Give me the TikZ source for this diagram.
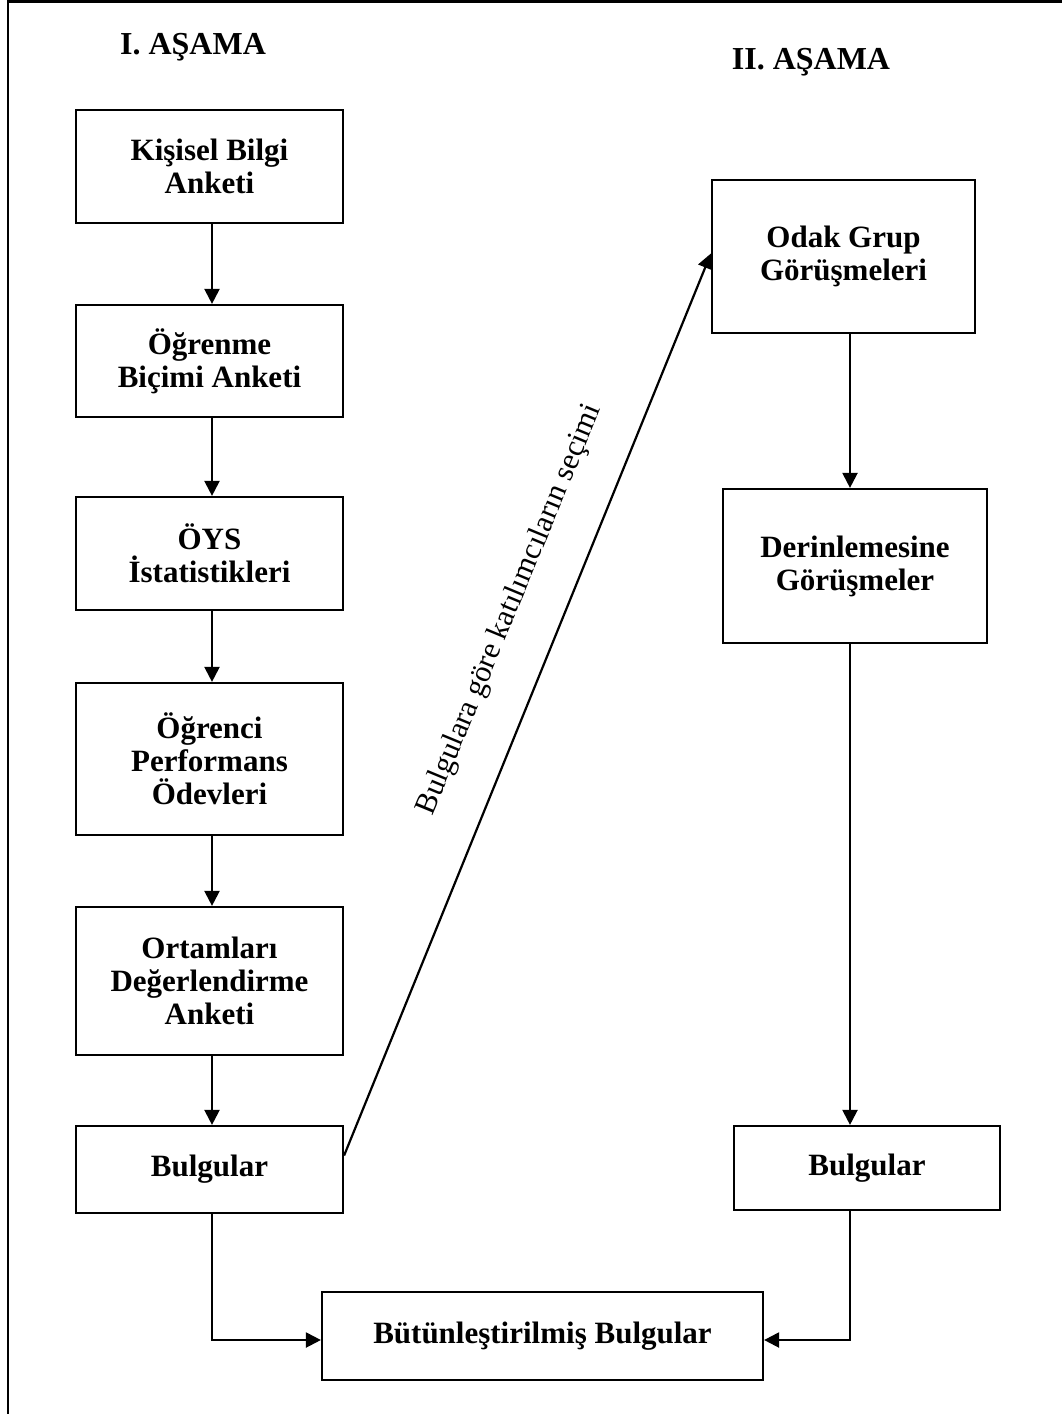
\documentclass[tikz,border=0pt]{standalone}
\usepackage{fontspec}
\setmainfont{Liberation Serif}
\usetikzlibrary{arrows.meta}
\begin{document}
\begin{tikzpicture}[x=1pt,y=-1pt,
  box/.style={draw,line width=2.2pt,inner sep=0pt,align=center,
    font=\fontsize{31}{33}\selectfont\bfseries},
  arr/.style={line width=2.2pt,-{Triangle[length=15pt,width=15pt]}},
  ttl/.style={font=\fontsize{32}{34}\selectfont\bfseries}]
\useasboundingbox (0,0) rectangle (1062,1414);
\draw[line width=2.6pt] (1062,1.3) -| (8,1414);
\node[ttl] (t1) at (193,47) {I. AŞAMA};
\node[ttl] (t2) at (811,62) {II. AŞAMA};
% left column
\node[box,minimum width=267pt,minimum height=113pt] (k1) at (209.5,166.5) {Kişisel Bilgi\\Anketi};
\node[box,minimum width=267pt,minimum height=112pt] (k2) at (209.5,361) {Öğrenme\\Biçimi Anketi};
\node[box,minimum width=267pt,minimum height=113pt] (k3) at (209.5,553.5) {ÖYS\\İstatistikleri};
\node[box,minimum width=267pt,minimum height=152pt] (k4) at (209.5,759) {Öğrenci\\Performans\\Ödevleri};
\node[box,minimum width=267pt,minimum height=148pt] (k5) at (209.5,981) {Ortamları\\Değerlendirme\\Anketi};
\node[box,minimum width=267pt,minimum height=87pt] (b1) at (209.5,1169.5) {Bulgular};
% right column
\node[box,minimum width=263pt,minimum height=153pt] (odak) at (843.5,256.5) {Odak Grup\\Görüşmeleri};
\node[box,minimum width=264pt,minimum height=154pt] (derin) at (855,566) {Derinlemesine\\Görüşmeler};
\node[box,minimum width=266pt,minimum height=84pt] (b2) at (867,1168) {Bulgular};
\node[box,minimum width=441pt,minimum height=88pt] (but) at (542.5,1336) {Bütünleştirilmiş Bulgular};
% connectors
\coordinate (ax) at (212,0);
\coordinate (rx) at (850,0);
\draw[arr] (k1.south -| ax) -- (k2.north -| ax);
\draw[arr] (k2.south -| ax) -- (k3.north -| ax);
\draw[arr] (k3.south -| ax) -- (k4.north -| ax);
\draw[arr] (k4.south -| ax) -- (k5.north -| ax);
\draw[arr] (k5.south -| ax) -- (b1.north -| ax);
\draw[arr] (odak.south -| rx) -- (derin.north -| rx);
\draw[arr] (derin.south -| rx) -- (b2.north -| rx);
\draw[arr] (b1.south -| ax) |- ([yshift=-4pt]but.west);
\draw[arr] (b2.south -| rx) |- ([yshift=-4pt]but.east);
\draw[arr] ([yshift=14pt]b1.east) -- ([yshift=3pt]odak.west);
\node[font=\fontsize{30.5}{32}\selectfont,rotate=67.5,inner sep=0pt] (lbl) at (510,610) {Bulgulara göre katılımcıların seçimi};
\end{tikzpicture}
\end{document}
